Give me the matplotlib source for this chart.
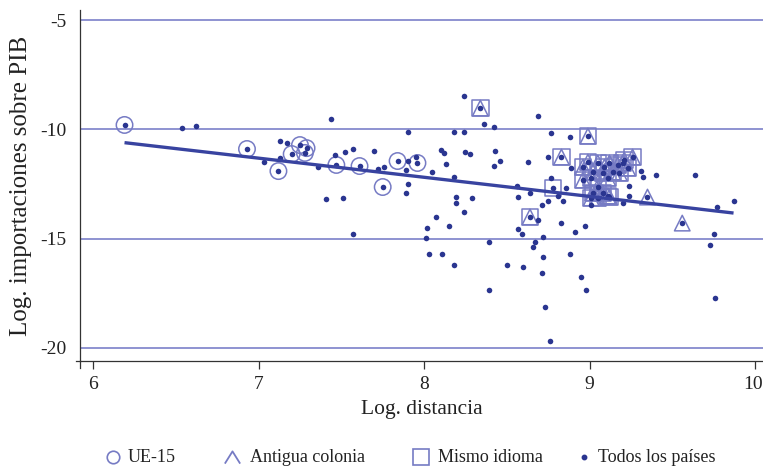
import matplotlib
matplotlib.use("Agg")
import matplotlib.pyplot as plt
from matplotlib.path import Path
from matplotlib.lines import Line2D
import matplotlib.transforms as mtransforms
import numpy as np

# ---- Data (log distance, log imports / GDP) ----
todos_x = [6.19, 6.54, 6.62, 6.93, 7.03, 7.13, 7.17, 7.13, 7.12, 7.20, 7.25, 7.29, 7.28,
           7.36, 7.44, 7.46, 7.52, 7.57, 7.47, 7.61, 7.70, 7.72, 7.76, 7.75, 7.84, 7.90,
           7.96, 7.95, 7.89, 7.90, 7.89, 7.41, 7.51, 7.90, 8.05, 8.10, 8.12, 8.13, 8.18,
           8.18, 8.24, 8.24, 8.25, 8.28, 8.19, 8.19, 8.29, 8.07, 8.02, 8.15, 7.57, 8.34,
           8.69, 8.36, 8.42, 8.77, 8.88, 8.99, 8.43, 8.46, 8.42, 8.63, 8.75, 8.83, 8.89,
           8.77, 8.56, 8.78, 8.86, 8.57, 8.64, 8.71, 8.75, 8.81, 8.84, 8.24, 8.64, 8.01,
           8.03, 8.11, 8.18, 8.39, 8.39, 8.50, 8.60, 8.57, 8.59, 8.69, 8.67, 8.66, 8.72,
           8.72, 8.71, 8.73, 8.76, 8.83, 8.88, 8.91, 8.97, 8.95, 8.98, 9.75, 9.73, 9.76,
           9.87, 9.77, 9.64, 9.40, 9.32, 9.31, 9.24, 9.24, 9.20, 9.01, 9.35, 9.56, 9.26,
           8.96, 8.99, 9.02, 9.05, 9.08, 9.09, 9.12, 9.14, 9.17, 9.20, 9.21, 9.23, 9.18,
           9.11, 9.01, 8.96, 9.05, 9.08, 9.11, 9.02, 9.01, 9.12, 9.05]
todos_y = [-9.80, -9.94, -9.85, -10.90, -11.50, -10.54, -10.63, -11.31, -11.91, -11.13,
           -10.72, -10.86, -11.08, -11.73, -9.53, -11.18, -11.04, -10.90, -11.63, -11.68,
           -10.99, -11.82, -11.73, -12.64, -11.45, -11.45, -11.54, -11.27, -11.86, -12.50,
           -12.91, -13.19, -13.14, -10.12, -11.95, -10.95, -11.08, -11.59, -12.18, -10.12,
           -10.12, -8.48, -11.04, -11.13, -13.10, -13.37, -13.14, -14.01, -14.52, -14.42,
           -14.79, -9.03, -9.39, -9.76, -9.90, -10.17, -10.35, -10.31, -10.99, -11.45,
           -11.68, -11.50, -11.27, -11.27, -11.77, -12.23, -12.59, -12.69, -12.69, -13.10,
           -12.91, -13.46, -13.28, -13.05, -13.28, -13.78, -14.01, -14.97, -15.71, -15.71,
           -16.21, -15.16, -17.35, -16.21, -16.30, -14.56, -14.79, -14.15, -15.16, -15.39,
           -14.93, -15.84, -16.58, -18.13, -19.69, -14.29, -15.71, -14.70, -14.42, -16.76,
           -17.35, -14.79, -15.29, -17.72, -13.28, -13.56, -12.09, -12.09, -12.18, -11.91,
           -12.59, -13.05, -13.37, -13.46, -13.10, -14.29, -11.27, -11.73, -11.50, -11.95,
           -11.54, -12.00, -11.73, -11.54, -11.95, -11.63, -11.54, -11.41, -11.77, -12.00,
           -12.23, -12.23, -12.32, -12.64, -12.91, -13.05, -12.91, -13.14, -13.10, -13.14]

ue_x = [6.19, 6.93, 7.12, 7.20, 7.25, 7.29, 7.28, 7.47, 7.61, 7.75, 7.84, 7.96]
ue_y = [-9.80, -10.90, -11.91, -11.13, -10.72, -10.86, -11.08, -11.63, -11.68, -12.64,
        -11.45, -11.54]

colonia_x = [8.34, 8.99, 8.83, 8.64, 9.35, 9.56, 9.26,
             8.96, 8.99, 9.02, 9.05, 9.08, 9.09, 9.12, 9.14, 9.17, 9.20, 9.21, 9.23,
             9.18, 9.11, 9.01, 8.96, 9.05, 9.08, 9.11, 9.02, 9.01, 9.12, 9.05]
colonia_y = [-9.03, -10.31, -11.27, -14.01, -13.10, -14.29, -11.27,
             -11.73, -11.50, -11.95, -11.54, -12.00, -11.73, -11.54, -11.95, -11.63,
             -11.54, -11.41, -11.77, -12.00, -12.23, -12.23, -12.32, -12.64, -12.91,
             -13.05, -12.91, -13.14, -13.10, -13.14]

idioma_x = [8.34, 8.99, 8.83, 8.64, 8.78, 9.26,
            8.96, 8.99, 9.02, 9.05, 9.08, 9.09, 9.12, 9.14, 9.17, 9.20, 9.21, 9.23,
            9.18, 9.11, 9.01, 8.96, 9.05, 9.08, 9.11, 9.02, 9.01, 9.12, 9.05]
idioma_y = [-9.03, -10.31, -11.27, -14.01, -12.69, -11.27,
            -11.73, -11.50, -11.95, -11.54, -12.00, -11.73, -11.54, -11.95, -11.63,
            -11.54, -11.41, -11.77, -12.00, -12.23, -12.23, -12.32, -12.64, -12.91,
            -13.05, -12.91, -13.14, -13.10, -13.14]

ajuste_x = [6.19, 9.87]
ajuste_y = [-10.61, -13.83]

x_ticks = [6, 7, 8, 9, 10]
y_ticks = [-5, -10, -15, -20]
legend_labels = ['UE-15', 'Antigua colonia', 'Mismo idioma', 'Todos los países']

# ---- Style ----
plt.rcParams['font.family'] = ['Liberation Serif', 'DejaVu Serif']
dot_c = '#2a3590'
mk_c = '#767bc4'
grid_c = '#7b80c9'
line_c = '#3843a0'
txt_c = '#222222'

W, H = 763, 468
fig = plt.figure(figsize=(W / 100, H / 100), dpi=100)
ax = fig.add_axes([80 / W, 1 - 361 / H, 683 / W, 351 / H])
ax.set_xlim(5.921, 10.048)
ax.set_ylim(-20.60, -4.54)

for yv in y_ticks:
    ax.axhline(yv, color=grid_c, lw=1.2, zorder=1)

ax.scatter(ue_x, ue_y, s=140, marker='o', facecolors='none', edgecolors=mk_c,
           linewidths=1.1, zorder=3)
ax.scatter(idioma_x, idioma_y, s=140, marker='s', facecolors='none', edgecolors=mk_c,
           linewidths=1.1, zorder=3)
ax.scatter(colonia_x, colonia_y, s=125, marker='^', facecolors='none', edgecolors=mk_c,
           linewidths=1.1, zorder=3)
ax.scatter(todos_x, todos_y, s=16, marker='o', color=dot_c, linewidths=0, zorder=4)
ax.plot(ajuste_x, ajuste_y, color=line_c, lw=2.4, zorder=5, solid_capstyle='butt')

for s in ['top', 'right']:
    ax.spines[s].set_visible(False)
for s in ['left', 'bottom']:
    ax.spines[s].set_color('#333333')
    ax.spines[s].set_linewidth(0.9)
# small overhang of the axes at the origin corner
ax.plot([-0.006, 0], [0, 0], transform=ax.transAxes, color='#333333', lw=0.9, clip_on=False)
ax.plot([0, 0], [0, -0.02], transform=ax.transAxes, color='#333333', lw=0.9, clip_on=False)

ax.set_xticks(x_ticks)
ax.set_xticklabels([str(v) for v in x_ticks])
ax.set_yticks(y_ticks)
ax.set_yticklabels([str(v) for v in y_ticks])
ax.tick_params(axis='x', length=6, width=0.9, color='#333333', pad=5, labelsize=14,
               labelcolor=txt_c)
ax.tick_params(axis='y', length=0, pad=10, labelsize=14, labelcolor=txt_c)
# nudge the last x tick label slightly left so it stays inside the canvas
last = ax.get_xticklabels()[-1]
last.set_transform(last.get_transform() + mtransforms.ScaledTranslation(-2 / 100, 0, fig.dpi_scale_trans))

ax.set_xlabel('Log. distancia', fontsize=15.5, color=txt_c, labelpad=5)
ax.set_ylabel('Log. importaciones sobre PIB', fontsize=18, color=txt_c, labelpad=6)

# ---- Legend, laid out manually in figure pixels ----
caret = Path([(-1, -0.8), (0, 0.8), (1, -0.8)], [Path.MOVETO, Path.LINETO, Path.LINETO])
leg_markers = [
    dict(marker='o', markersize=9, markerfacecolor='none', markeredgecolor=mk_c, markeredgewidth=1.2),
    dict(marker=caret, markersize=11, markerfacecolor='none', markeredgecolor=mk_c, markeredgewidth=1.3),
    dict(marker='s', markersize=11, markerfacecolor='none', markeredgecolor=mk_c, markeredgewidth=1.2),
    dict(marker='o', markersize=3.2, color=dot_c),
]
marker_px = [113, 232, 421, 584]
text_px = [128, 250, 438, 598]
leg_y = 1 - 457 / H
for lbl, mk, mx, tx in zip(legend_labels, leg_markers, marker_px, text_px):
    fig.add_artist(Line2D([mx / W], [leg_y], ls='none', transform=fig.transFigure, **mk))
    fig.text(tx / W, leg_y, lbl, fontsize=13, color=txt_c, ha='left', va='center')

fig.savefig('out.png', dpi=100, facecolor='white')
